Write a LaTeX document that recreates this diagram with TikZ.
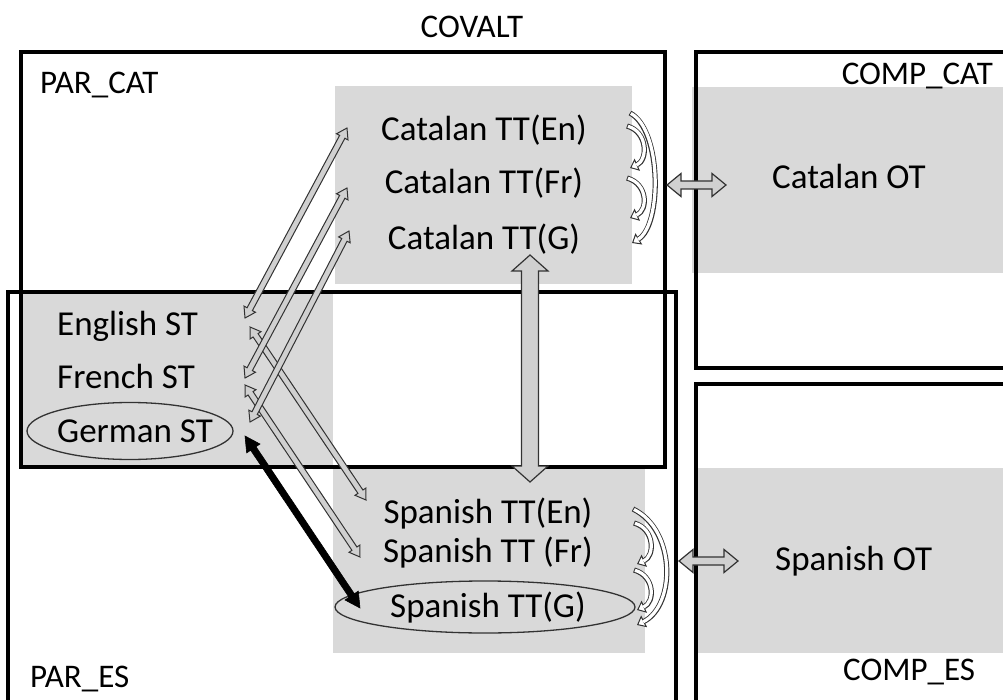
\documentclass[tikz,border=0pt]{standalone}
\usepackage{fontspec}
\setmainfont{Carlito}
\usetikzlibrary{calc,arrows.meta,shapes.geometric,fit}
\definecolor{bggray}{RGB}{217,217,217}
\definecolor{arrfill}{RGB}{208,208,208}
\definecolor{arrline}{RGB}{50,50,50}
% block double arrow: #1 style, #2 from, #3 to, #4 half shaft, #5 half head, #6 head length
\newcommand\blockarr[6]{%
  \path[#1] let \p1=(#2), \p2=(#3), \n1={atan2(\y2-\y1,\x2-\x1)}, \n2={veclen(\x2-\x1,\y2-\y1)} in
    [shift={(\p1)}, rotate=\n1]
    (0,0) -- (#6,#5) -- (#6,#4) -- ({\n2-#6},#4) -- ({\n2-#6},#5) -- ({\n2},0)
    -- ({\n2-#6},-#5) -- ({\n2-#6},-#4) -- (#6,-#4) -- (#6,-#5) -- cycle;}
\begin{document}
\begin{tikzpicture}[x=1pt,y=-1pt,
  lbl/.style={font=\fontsize{33}{40}\selectfont, inner sep=0},
  txt/.style={font=\fontsize{35}{42}\selectfont, inner sep=0},
  panel/.style={fill=bggray, inner sep=0},
  frame/.style={draw=black, line width=3.4pt, inner sep=0},
  ell/.style={draw=arrline, line width=1.3pt, ellipse, inner sep=0},
  thinarr/.style={fill=arrfill, draw=arrline, line width=1pt},
  bigarr/.style={fill=arrfill, draw=arrline, line width=1.2pt},
  blackarr/.style={fill=black, draw=black, line width=0.6pt},
  curvout/.style={draw=arrline, line width=5.2pt, -{Triangle[length=8pt,width=13pt,fill=white,line width=1pt]}},
  curvin/.style={draw=white, line width=3.2pt, shorten >=7pt, shorten <=1pt}]
\useasboundingbox (0,0) rectangle (1003,700);
\clip (0,0) rectangle (1003,700);
% grey panels
\node[panel, fit={(335,86)(632,284)}] (catPanel) {};
\node[panel, fit={(692,87)(1010,273)}] (catOTPanel) {};
\node[panel, fit={(20,292)(333,467)}] (stPanel) {};
\node[panel, fit={(333,468)(645,653)}] (spaPanel) {};
\node[panel, fit={(697,468)(1010,653)}] (spaOTPanel) {};
% frames
\node[frame, fit={(21,52)(665,467)}] (parcat) {};
\node[frame, fit={(8,292)(676,730)}] (pares) {};
\node[frame, fit={(696,52)(1030,368)}] (compcat) {};
\node[frame, fit={(696,384)(1030,730)}] (compes) {};
% ellipses
\node[ell, minimum width=206pt, minimum height=57pt] (gerEll) at (130,431) {};
\node[ell, minimum width=300pt, minimum height=52pt] (spgEll) at (485,607) {};
% labels
\node[lbl, anchor=base] (covalt) at (472,38) {COVALT};
\node[lbl, anchor=base west] (parcatL) at (40,94) {PAR\_CAT};
\node[lbl, anchor=base east] (compcatL) at (993,85) {COMP\_CAT};
\node[lbl, anchor=base west] (paresL) at (30,687) {PAR\_ES};
\node[lbl, anchor=base west] (compesL) at (843,680) {COMP\_ES};
% texts
\node[txt, anchor=base] (catEn) at (484,141) {Catalan TT(En)};
\node[txt, anchor=base] (catFr) at (484,194) {Catalan TT(Fr)};
\node[txt, anchor=base] (catG) at (484,250) {Catalan TT(G)};
\node[txt, anchor=base west] (catOT) at (772,189) {Catalan OT};
\node[txt, anchor=base west] (enST) at (57,335) {English ST};
\node[txt, anchor=base west] (frST) at (57,388) {French ST};
\node[txt, anchor=base west] (geST) at (57,442) {German ST};
\node[txt, anchor=base] (spEn) at (488,523) {Spanish TT(En)};
\node[txt, anchor=base] (spFr) at (488,562) {Spanish TT (Fr)};
\node[txt, anchor=base] (spG) at (488,617) {Spanish TT(G)};
\node[txt, anchor=base west] (spOT) at (775,570) {Spanish OT};
% arrow end points
\coordinate (a1s) at (245,318); \coordinate (a1e) at (347,128);
\coordinate (a2s) at (245,378); \coordinate (a2e) at (347,188);
\coordinate (a3s) at (250,422); \coordinate (a3e) at (349,231);
\coordinate (b1s) at (250,327); \coordinate (b1e) at (366,500);
\coordinate (b2s) at (245,385); \coordinate (b2e) at (360,557);
\coordinate (ks) at (245,436); \coordinate (ke) at (360,608);
\coordinate (vs) at (530,255); \coordinate (ve) at (530,482);
\coordinate (h1s) at (667,185); \coordinate (h1e) at (726,185);
\coordinate (h2s) at (679,561); \coordinate (h2e) at (738,561);
% straight block arrows
\blockarr{thinarr}{b1s}{b1e}{3}{6.5}{10}
\blockarr{thinarr}{b2s}{b2e}{3}{6.5}{10}
\blockarr{thinarr}{a1s}{a1e}{3}{6.5}{10}
\blockarr{thinarr}{a2s}{a2e}{3}{6.5}{10}
\blockarr{thinarr}{a3s}{a3e}{3}{6.5}{10}
\blockarr{blackarr}{ks}{ke}{3.2}{8}{15}
\blockarr{bigarr}{vs}{ve}{8.5}{18}{16}
\blockarr{bigarr}{h1s}{h1e}{4}{11.5}{14}
\blockarr{bigarr}{h2s}{h2e}{4}{11.5}{14}
% curved arrows
\coordinate (c1s) at (627,126); \coordinate (c1e) at (630,168);
\coordinate (c2s) at (627,178); \coordinate (c2e) at (630,218);
\coordinate (c3s) at (630,113); \coordinate (c3e) at (632,243);
\coordinate (d1s) at (634,523); \coordinate (d1e) at (637,564);
\coordinate (d2s) at (634,570); \coordinate (d2e) at (637,610);
\coordinate (d3s) at (633,509); \coordinate (d3e) at (637,625);
\foreach \p/\q in {c1s/c1e,c2s/c2e,d1s/d1e,d2s/d2e}{
  \draw[curvout] (\p) .. controls +(21,6) and +(18,-8) .. (\q);
  \draw[curvin] (\p) .. controls +(21,6) and +(18,-8) .. (\q);
}
\draw[curvout] (c3s) .. controls +(32,17) and +(30,-18) .. (c3e);
\draw[curvin] (c3s) .. controls +(32,17) and +(30,-18) .. (c3e);
\draw[curvout] (d3s) .. controls +(43,21) and +(39,-20) .. (d3e);
\draw[curvin] (d3s) .. controls +(43,21) and +(39,-20) .. (d3e);
\end{tikzpicture}
\end{document}
